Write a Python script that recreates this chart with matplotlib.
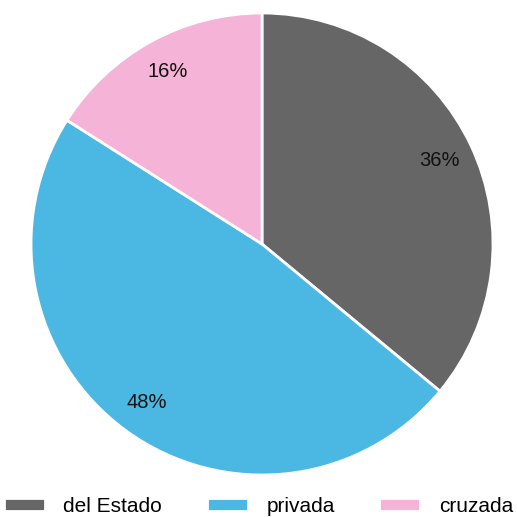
import matplotlib.pyplot as plt

labels = ["del Estado", "privada", "cruzada"]
values = [36, 48, 16]
colors = ["#666666", "#4bb8e3", "#f5b3d7"]

plt.rcParams['font.family'] = ['Liberation Sans', 'DejaVu Sans']

fig = plt.figure(figsize=(5.17, 5.17), dpi=100)
ax = fig.add_axes([31 / 517, 42 / 517, 462 / 517, 462 / 517])

wedges, texts, autotexts = ax.pie(
    values, colors=colors, startangle=90, counterclock=False,
    autopct='%d%%', pctdistance=0.85,
    wedgeprops=dict(edgecolor='white', linewidth=2),
    textprops=dict(fontsize=14.5, color='#111111'))
ax.set_xlim(-1, 1)
ax.set_ylim(-1, 1)
ax.set_aspect('equal')

fig.legend(wedges, labels, loc='lower center', bbox_to_anchor=(0.5, -0.034),
           ncol=3, frameon=False, fontsize=15,
           handlelength=1.95, handleheight=0.6, handletextpad=0.9,
           columnspacing=2.15)

fig.savefig("out.png", dpi=100)
